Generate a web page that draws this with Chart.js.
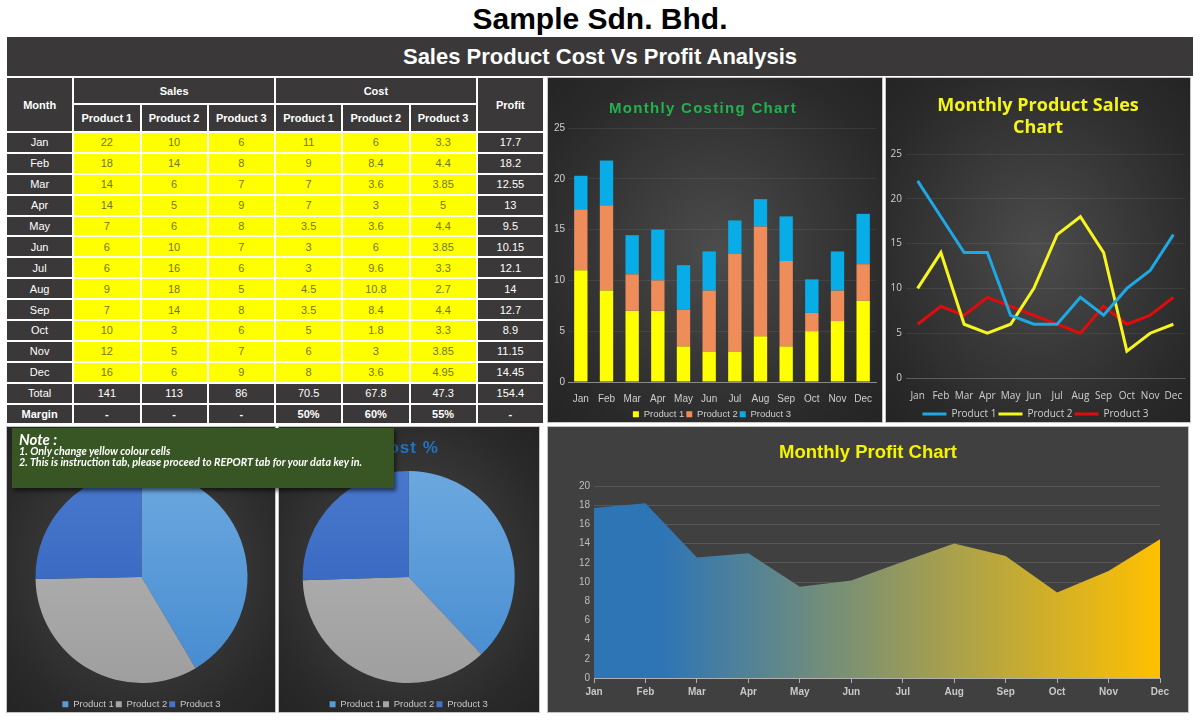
<!DOCTYPE html>
<html><head><meta charset="utf-8">
<script src="https://cdn.jsdelivr.net/npm/chart.js@4.4.1/dist/chart.umd.min.js"></script>
<style>
html,body{margin:0;padding:0}
body{width:1200px;height:720px;background:#fff;position:relative;overflow:hidden;font-family:'Liberation Sans',Arial,sans-serif}
#hdr{position:absolute;left:0;top:0;width:1200px;height:38px;line-height:38px;text-align:center;font-weight:bold;font-size:30px;color:#000}
#banner{position:absolute;left:7px;top:37px;width:1186px;height:39px;line-height:39px;background:#3a3838;color:#fff;text-align:center;font-weight:bold;font-size:22px}
#tbl{position:absolute;left:5px;top:76px;width:540px;border-collapse:separate;border-spacing:2px;background:#fff;table-layout:fixed}
#tbl td,#tbl th{padding:0;text-align:center;font-size:11px;color:#fff;background:#3a3838;white-space:nowrap}
#tbl th{font-weight:bold}
#tbl td.y{background:#ffff00;color:#74741c}
#tbl td.b{font-weight:bold}
.panel{position:absolute;overflow:hidden;box-shadow:0 0 0 1px #c4c4c4}
.dark{background:radial-gradient(ellipse at 50% 50%,#4c4c4c 0%,#3a3a3a 40%,#292929 80%,#242424 100%)}
.panel canvas{position:absolute;left:0;top:0}
.ttl{position:absolute;white-space:nowrap;transform:translate(-50%,-50%);font-weight:bold}
#note{position:absolute;left:12px;top:428px;width:382px;height:60px;background:#375623;box-shadow:2px 3px 4px rgba(0,0,0,0.55);color:#fff;font-family:'Lato','Open Sans',sans-serif;font-style:italic;font-weight:bold;z-index:10}
#note .n0{position:absolute;left:7px;top:2px;font-size:15px;line-height:18px}
#note .n1{position:absolute;left:7px;top:18px;font-size:10.8px;line-height:10.7px}
</style></head>
<body>
<div id="hdr">Sample Sdn. Bhd.</div>
<div id="banner">Sales Product Cost Vs Profit Analysis</div>
<table id="tbl"></table>

<div class="panel dark" style="left:548px;top:78px;width:334px;height:344px">
  <canvas id="cBar" width="334" height="351"></canvas>
  <div class="ttl" style="left:155px;top:29px;color:#22b24f;font-size:15px;letter-spacing:1.3px">Monthly Costing Chart</div>
</div>
<div class="panel dark" style="left:886px;top:78px;width:304px;height:344px">
  <canvas id="cLine" width="304" height="351"></canvas>
  <div class="ttl" style="left:152px;top:37px;color:#f5f51a;font-size:18px;line-height:22px;text-align:center;font-family:'Open Sans',sans-serif">Monthly Product Sales<br>Chart</div>
</div>
<div class="panel dark" style="left:7px;top:427px;width:268px;height:285px">
  <canvas id="cPie1" width="268" height="292"></canvas>
  <div class="ttl" style="left:134px;top:21px;color:#1f74c6;font-size:17px;letter-spacing:1px">Sales %</div>
</div>
<div class="panel dark" style="left:279px;top:427px;width:260px;height:285px">
  <canvas id="cPie2" width="260" height="292"></canvas>
  <div class="ttl" style="left:128px;top:21px;color:#1f74c6;font-size:17px;letter-spacing:1px">Cost %</div>
</div>
<div class="panel" style="left:548px;top:427px;width:640px;height:285px;background:#404040">
  <canvas id="cArea" width="640" height="285"></canvas>
  <div class="ttl" style="left:320px;top:25px;color:#f4f400;font-size:18.5px">Monthly Profit Chart</div>
</div>
<div id="note"><div class="n0">Note :</div><div class="n1">1. Only change yellow colour cells<br>2. This is instruction tab, please proceed to REPORT tab for your data key in.</div></div>

<script>
// ---- data ----
const months = ['Jan','Feb','Mar','Apr','May','Jun','Jul','Aug','Sep','Oct','Nov','Dec'];
const products = ['Product 1','Product 2','Product 3'];
const sales1 = [22,18,14,14,7,6,6,9,7,10,12,16];
const sales2 = [10,14,6,5,6,10,16,18,14,3,5,6];
const sales3 = [6,8,7,9,8,7,6,5,8,6,7,9];
const cost1 = [11,9,7,7,3.5,3,3,4.5,3.5,5,6,8];
const cost2 = [6,8.4,3.6,3,3.6,6,9.6,10.8,8.4,1.8,3,3.6];
const cost3 = [3.3,4.4,3.85,5,4.4,3.85,3.3,2.7,4.4,3.3,3.85,4.95];
const profit = [17.7,18.2,12.55,13,9.5,10.15,12.1,14,12.7,8.9,11.15,14.45];
const totalRow = ['141','113','86','70.5','67.8','47.3','154.4'];
const marginRow = ['-','-','-','50%','60%','55%','-'];
const salesTotals = [141,113,86];
const costTotals = [70.5,67.8,47.3];

// ---- table ----
(function(){
  const t = document.getElementById('tbl');
  let h = '<colgroup>' + '<col>'.repeat(8) + '</colgroup>';
  h += '<tr style="height:25px"><th rowspan="2">Month</th><th colspan="3">Sales</th><th colspan="3">Cost</th><th rowspan="2">Profit</th></tr>';
  h += '<tr style="height:26px">' + products.map(p=>'<th>'+p+'</th>').join('') + products.map(p=>'<th>'+p+'</th>').join('') + '</tr>';
  months.forEach((m,i)=>{
    h += '<tr style="height:18.9px"><td>'+m+'</td>';
    [sales1,sales2,sales3,cost1,cost2,cost3].forEach(a=>{ h += '<td class="y">'+a[i]+'</td>'; });
    h += '<td>'+profit[i]+'</td></tr>';
  });
  h += '<tr style="height:18.9px"><td>Total</td>' + totalRow.map(v=>'<td>'+v+'</td>').join('') + '</tr>';
  h += '<tr style="height:18.9px"><td class="b">Margin</td>' + marginRow.map(v=>'<td class="b">'+v+'</td>').join('') + '</tr>';
  t.innerHTML = h;
})();

Chart.defaults.font.family = "'Liberation Sans', Arial, sans-serif";
Chart.defaults.animation = false;
Chart.defaults.plugins.tooltip.enabled = false;

// ---- stacked bar: costs ----
new Chart(document.getElementById('cBar'), {
  type: 'bar',
  data: { labels: months, datasets: [
    { label: products[0], data: cost1, backgroundColor: '#ffff00' },
    { label: products[1], data: cost2, backgroundColor: '#ee8c5a' },
    { label: products[2], data: cost3, backgroundColor: '#08ade8' }
  ]},
  options: {
    responsive: false,
    layout: { padding: { top: 50, left: 0, right: 6, bottom: 0 } },
    datasets: { bar: { barPercentage: 0.52, categoryPercentage: 1 } },
    plugins: {
      legend: { position: 'bottom', labels: { boxWidth: 6, boxHeight: 6, padding: 2, color: '#cfcfcf', font: { size: 9.5 } } }
    },
    scales: {
      x: { stacked: true, grid: { display: false }, border: { color: '#8a8a8a' },
           ticks: { color: '#cfcfcf', font: { size: 10 }, padding: 3, maxRotation: 0, minRotation: 0, autoSkip: false },
           afterFit: s => { s.height = 25.5; } },
      y: { stacked: true, min: 0, max: 25, ticks: { stepSize: 5, color: '#cfcfcf', font: { size: 10 }, padding: 3 },
           grid: { color: 'rgba(255,255,255,0.07)', drawTicks: false }, border: { display: false },
           afterFit: s => { s.width = 20; } }
    }
  }
});

// ---- line: sales ----
new Chart(document.getElementById('cLine'), {
  type: 'line',
  data: { labels: months, datasets: [
    { label: products[0], data: sales1, borderColor: '#1ea8e4', backgroundColor: '#1ea8e4', borderWidth: 3, pointRadius: 0, tension: 0 },
    { label: products[1], data: sales2, borderColor: '#f6f61e', backgroundColor: '#f6f61e', borderWidth: 3, pointRadius: 0, tension: 0 },
    { label: products[2], data: sales3, borderColor: '#e00c0c', backgroundColor: '#e00c0c', borderWidth: 3, pointRadius: 0, tension: 0 }
  ]},
  options: {
    responsive: false,
    layout: { padding: { top: 76, left: 0, right: 5, bottom: 0 } },
    plugins: {
      legend: { position: 'bottom', labels: { usePointStyle: true, pointStyle: 'line', pointStyleWidth: 24, padding: 2, color: '#d0d0d0', font: { family: "'Open Sans', sans-serif", size: 10 } } }
    },
    scales: {
      x: { offset: true, grid: { display: false }, border: { color: 'rgba(255,255,255,0.18)' },
           ticks: { color: '#d0d0d0', font: { family: "'Open Sans', sans-serif", size: 10 }, padding: 4, maxRotation: 0, minRotation: 0, autoSkip: false },
           afterFit: s => { s.height = 29; } },
      y: { min: 0, max: 25, ticks: { stepSize: 5, color: '#d0d0d0', font: { family: "'Open Sans', sans-serif", size: 10 }, padding: 4 },
           grid: { color: 'rgba(255,255,255,0.07)', drawTicks: false }, border: { display: false },
           afterFit: s => { s.width = 20; } }
    }
  }
});

// ---- pies ----
const pieTop = ['#6eaae0','#b8b8b8','#4b7ad0'];
const pieBot = ['#4389cf','#9d9d9d','#2d5cb6'];
const pieFlat = ['#5b9bd5','#a5a5a5','#4472c4'];
function pieColor(c){
  const a = c.chart.chartArea;
  const i = c.dataIndex;
  if (!a || i === undefined) return pieFlat[i || 0];
  const g = c.chart.ctx.createLinearGradient(0, a.top, 0, a.bottom);
  g.addColorStop(0, pieTop[i]); g.addColorStop(1, pieBot[i]);
  return g;
}
function pieCfg(values, padL, padR){
  return {
    type: 'pie',
    data: { labels: products, datasets: [{ data: values, borderWidth: 0, backgroundColor: pieColor }] },
    options: {
      responsive: false,
      layout: { padding: { top: 29.5, left: padL, right: padR, bottom: 0 } },
      plugins: {
        legend: { position: 'bottom', labels: { boxWidth: 6, boxHeight: 6, padding: 2, color: '#c8c8c8', font: { size: 9.5 },
          generateLabels: (chart) => products.map((p, i) => ({ text: p, fillStyle: pieFlat[i], strokeStyle: 'rgba(0,0,0,0)', lineWidth: 0, fontColor: '#c8c8c8', index: i })) } }
      }
    }
  };
}
new Chart(document.getElementById('cPie1'), pieCfg(salesTotals, 28.5, 27.5));
new Chart(document.getElementById('cPie2'), pieCfg(costTotals, 23.7, 24.3));

// ---- area: profit ----
new Chart(document.getElementById('cArea'), {
  type: 'line',
  data: { labels: months, datasets: [{ label: 'Profit', data: profit, fill: 'origin', borderWidth: 0, pointRadius: 0, tension: 0,
    borderColor: 'rgba(0,0,0,0)',
    backgroundColor: (c) => {
      const a = c.chart.chartArea;
      if (!a) return '#2e75b6';
      const g = c.chart.ctx.createLinearGradient(a.left, 0, a.right, 0);
      g.addColorStop(0, '#2e75b6'); g.addColorStop(0.12, '#2e75b6'); g.addColorStop(1, '#ffc000');
      return g;
    } }] },
  options: {
    responsive: false,
    layout: { padding: { top: 59, left: 0, right: 28, bottom: 4 } },
    plugins: { legend: { display: false } },
    scales: {
      x: { offset: false, grid: { display: true, drawOnChartArea: false, drawTicks: true, tickLength: 5, color: '#b0b0b0' },
           border: { color: '#b0b0b0' }, ticks: { color: '#c8c8c8', font: { size: 10, weight: 'bold' }, padding: 3, maxRotation: 0, autoSkip: false },
           afterFit: s => { s.height = 30; } },
      y: { min: 0, max: 20, ticks: { stepSize: 2, color: '#bdbdbd', font: { size: 10 }, padding: 4 },
           grid: { color: '#585858', drawTicks: false }, border: { display: false },
           afterFit: s => { s.width = 46; } }
    }
  }
});
</script>
</body></html>
